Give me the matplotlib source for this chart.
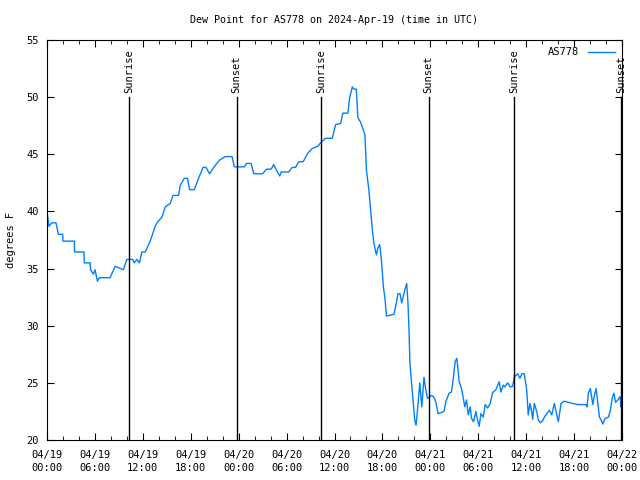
import numpy as np
import matplotlib
matplotlib.use("Agg")
import matplotlib.pyplot as plt
from matplotlib.ticker import MultipleLocator

# ----- Data (hours since 2024-04-19 00:00 UTC, dew point in F) -----
hours = [
    0.0, 0.25, 0.59, 1.13, 1.42, 1.97, 2.0, 3.43, 3.45, 4.64, 4.66, 5.40, 5.45, 5.81,
    6.02, 6.31, 6.56, 7.90, 8.53, 9.57, 10.0, 10.75, 10.92, 11.25, 11.58, 11.88, 12.30,
    12.92, 13.55, 13.76, 14.39, 14.81, 15.43, 15.77, 16.47, 16.69, 17.19, 17.60, 17.85,
    18.44, 18.98, 19.54, 19.91, 20.36, 20.87, 21.62, 22.33, 23.17, 23.46, 24.72, 24.97,
    25.56, 25.88, 27.01, 27.48, 28.07, 28.39, 28.82, 29.15, 29.32, 30.28, 30.70, 31.12,
    31.53, 32.08, 32.66, 33.21, 33.91, 34.25, 34.88, 35.72, 36.14, 36.76, 37.05, 37.68,
    37.89, 38.23, 38.43, 38.73, 38.93, 39.27, 39.61, 39.81, 40.0, 40.3, 40.53, 40.74,
    40.94, 41.24, 41.44, 41.66, 41.87, 42.12, 42.32, 42.50, 43.45, 43.75, 43.95, 44.20,
    44.42, 44.79, 45.04, 45.20, 45.33, 45.45, 45.55, 45.76, 46.05, 46.21, 46.39, 46.68,
    46.93, 47.21, 47.43, 47.64, 48.14, 48.39, 48.68, 48.97, 49.72, 49.94, 50.35, 50.65,
    50.90, 51.10, 51.32, 51.61, 51.91, 52.16, 52.32, 52.53, 52.74, 52.99, 53.16, 53.41,
    53.70, 53.91, 54.12, 54.33, 54.62, 54.87, 55.17, 55.50, 55.80, 56.21, 56.62, 56.84,
    57.13, 57.34, 57.68, 58.01, 58.31, 58.51, 58.93, 59.22, 59.47, 59.76, 60.06, 60.26,
    60.48, 60.69, 60.81, 61.02, 61.32, 61.52, 61.77, 62.07, 62.36, 62.90, 63.20, 63.53,
    63.74, 64.03, 64.37, 64.78, 65.21, 65.83, 66.46, 67.50, 67.63, 67.79, 68.04, 68.34,
    68.54, 68.76, 68.97, 69.17, 69.39, 69.60, 69.89, 70.30, 70.55, 70.77, 70.98, 71.18,
    71.48, 71.77, 71.89, 71.98,
]
dewpoint = [
    40.0, 38.7, 39.0, 39.0, 38.0, 38.0, 37.4, 37.4, 36.45, 36.45, 35.5, 35.5, 34.9, 34.5,
    34.9, 33.9, 34.2, 34.2, 35.2, 34.9, 35.8, 35.8, 35.5, 35.8, 35.5, 36.45, 36.45,
    37.4, 38.7, 39.0, 39.5, 40.4, 40.7, 41.4, 41.4, 42.3, 42.9, 42.9, 41.9,
    41.9, 42.9, 43.85, 43.85, 43.3, 43.85, 44.5, 44.8, 44.8, 43.9, 43.9, 44.2,
    44.2, 43.3, 43.3, 43.7, 43.7, 44.1, 43.5, 43.1, 43.45, 43.45, 43.85, 43.85,
    44.35, 44.35, 45.1, 45.5, 45.7, 46.0, 46.4, 46.4, 47.6, 47.7, 48.6, 48.6,
    49.9, 50.9, 50.7, 50.7, 48.2, 47.8, 47.1, 46.7, 43.6, 41.9, 40.1, 38.4,
    37.2, 36.2, 36.8, 37.1, 35.8, 33.4, 32.4, 30.85, 31.0, 32.0, 32.8, 32.8,
    32.0, 33.1, 33.7, 32.0, 29.6, 26.6, 25.8, 24.1, 21.75, 21.3, 22.6, 25.0,
    22.9, 25.5, 24.4, 23.65, 23.9, 23.8, 23.35, 22.3, 22.5, 23.35, 24.1, 24.2,
    25.5, 26.85, 27.15, 25.1, 24.5, 23.5, 22.9, 23.5, 22.2, 22.9, 21.9, 21.6,
    22.5, 21.75, 21.2, 22.3, 22.0, 23.1, 22.8, 23.2, 24.15, 24.4, 25.1, 24.2,
    24.8, 24.65, 25.0, 24.65, 24.7, 25.5, 25.8, 25.4, 25.8, 25.8, 24.4, 22.2,
    23.2, 22.5, 21.8, 23.2, 22.5, 21.75, 21.5, 21.7, 22.1, 22.6, 22.2, 23.2,
    22.5, 21.6, 23.2, 23.4, 23.3, 23.2, 23.1, 23.1, 22.9, 24.1, 24.5, 23.1,
    23.9, 24.5, 23.2, 22.0, 21.75, 21.4, 21.9, 22.0, 22.6, 23.65, 24.1, 23.3,
    23.5, 23.8, 22.9, 23.3,
]

sunrise = [10.3, 34.3, 58.45]
sunset = [23.75, 47.8, 71.85]

tick_hours = list(range(0, 73, 6))
tick_labels = ["04/19\n00:00", "04/19\n06:00", "04/19\n12:00", "04/19\n18:00",
               "04/20\n00:00", "04/20\n06:00", "04/20\n12:00", "04/20\n18:00",
               "04/21\n00:00", "04/21\n06:00", "04/21\n12:00", "04/21\n18:00",
               "04/22\n00:00"]

plt.rcParams["font.family"] = "DejaVu Sans Mono"
plt.rcParams["font.size"] = 7.5

fig = plt.figure(figsize=(6.4, 4.8), dpi=100)
ax = fig.add_axes([47 / 640, 40 / 480, 575 / 640, 400 / 480])

ax.plot(hours, dewpoint, color="#0080ff", lw=1, label="AS778")

for h in sunrise:
    ax.plot([h, h], [20, 50], color="black", lw=1)
    ax.text(h, 50.4, "Sunrise", rotation=90, ha="center", va="bottom")
for h in sunset:
    ax.plot([h, h], [20, 50], color="black", lw=1)
    ax.text(h, 50.4, "Sunset", rotation=90, ha="center", va="bottom")

ax.set_xlim(0, 72)
ax.set_ylim(20, 55)
ax.set_xticks(tick_hours)
ax.set_xticklabels(tick_labels, linespacing=1.45)
ax.xaxis.set_minor_locator(MultipleLocator(2))
ax.yaxis.set_major_locator(MultipleLocator(5))
ax.tick_params(which="both", direction="in", top=True, right=True)
ax.tick_params(which="major", length=5)
ax.tick_params(which="minor", length=3)
ax.tick_params(axis="x", pad=7)
ax.tick_params(axis="y", pad=6)

ax.set_title("Dew Point for AS778 on 2024-Apr-19 (time in UTC)", fontsize=7.2, pad=12)
ax.set_ylabel("degrees F", labelpad=7)

ax.legend(loc="upper right", frameon=False, markerfirst=False,
          handlelength=2.6, borderaxespad=0.3)

fig.savefig("out.png", dpi=100)
